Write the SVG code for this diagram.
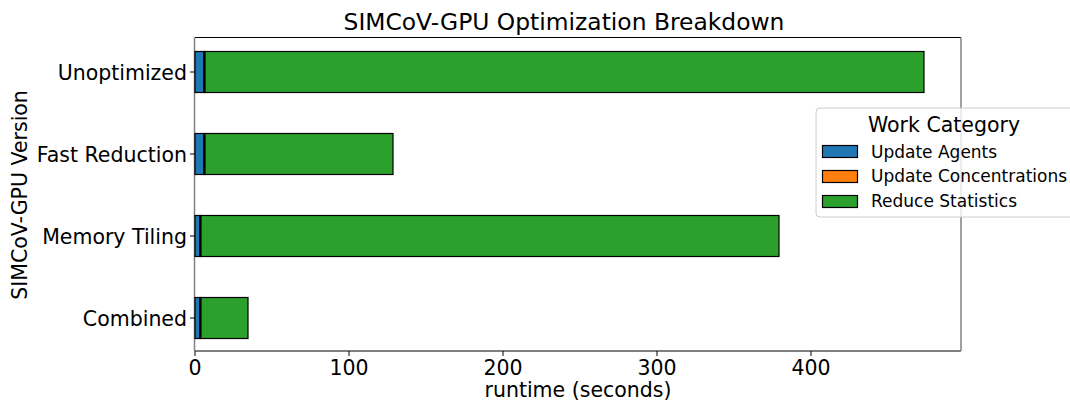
<svg xmlns="http://www.w3.org/2000/svg" width="1070" height="400" viewBox="0 0 1070 400">
<style>
text{font-family:"DejaVu Sans",sans-serif;fill:#000}
.tick{font-size:20.5px}
.bar{stroke:#000;stroke-width:1.2}
.a{fill:#1f77b4}.c{fill:#ff7f0e}.r{fill:#2ca02c}
.tk{stroke:#000;stroke-width:1}
.leg{font-size:17px}
</style>
<rect width="1070" height="400" fill="#fff"/>
<text x="564" y="30" font-size="23.4" text-anchor="middle">SIMCoV-GPU Optimization Breakdown</text>
<g id="axes">
<line x1="195" y1="37.5" x2="961" y2="37.5" stroke="#000" stroke-width="1"/>
<line x1="195" y1="351" x2="961" y2="351" stroke="#000" stroke-width="1"/>
<line x1="194.5" y1="37.5" x2="194.5" y2="351" stroke="#808080" stroke-width="1.5"/>
<line x1="961" y1="37.5" x2="961" y2="351" stroke="#808080" stroke-width="1.5"/>
<g class="tk">
<line x1="190" y1="72" x2="195" y2="72"/><line x1="190" y1="154" x2="195" y2="154"/>
<line x1="190" y1="236" x2="195" y2="236"/><line x1="190" y1="318" x2="195" y2="318"/>
<line x1="195" y1="351" x2="195" y2="356"/><line x1="349" y1="351" x2="349" y2="356"/>
<line x1="503" y1="351" x2="503" y2="356"/><line x1="657" y1="351" x2="657" y2="356"/>
<line x1="811" y1="351" x2="811" y2="356"/>
</g>
<g class="tick" text-anchor="end">
<text x="187" y="79.5">Unoptimized</text>
<text x="187" y="161.5">Fast Reduction</text>
<text x="187" y="243.5">Memory Tiling</text>
<text x="187" y="325.5">Combined</text>
</g>
<g class="tick" text-anchor="middle">
<text x="195" y="375">0</text><text x="349" y="375">100</text><text x="503" y="375">200</text>
<text x="657" y="375">300</text><text x="811" y="375">400</text>
</g>
<text x="578" y="397" class="tick" text-anchor="middle">runtime (seconds)</text>
<text transform="translate(27,195) rotate(-90)" class="tick" text-anchor="middle">SIMCoV-GPU Version</text>
</g>
<g id="connectors"></g>
<g id="bar-unoptimized">
<rect class="bar a" x="195" y="51.5" width="9" height="41"/>
<rect class="bar c" x="204" y="51.5" width="1" height="41"/>
<rect class="bar r" x="205" y="51.5" width="719" height="41"/>
</g>
<g id="bar-fast-reduction">
<rect class="bar a" x="195" y="133.5" width="9" height="41"/>
<rect class="bar c" x="204" y="133.5" width="1" height="41"/>
<rect class="bar r" x="205" y="133.5" width="188" height="41"/>
</g>
<g id="bar-memory-tiling">
<rect class="bar a" x="195" y="215.5" width="5" height="41"/>
<rect class="bar c" x="200" y="215.5" width="1" height="41"/>
<rect class="bar r" x="201" y="215.5" width="578" height="41"/>
</g>
<g id="bar-combined">
<rect class="bar a" x="195" y="297.5" width="5" height="41"/>
<rect class="bar c" x="200" y="297.5" width="1" height="41"/>
<rect class="bar r" x="201" y="297.5" width="47" height="41"/>
</g>
<g id="legend">
<rect x="816" y="108" width="270" height="109" rx="4" fill="#fff" fill-opacity="0.8" stroke="#ccc" stroke-width="1"/>
<text x="944" y="131.5" font-size="20.5" text-anchor="middle">Work Category</text>
<rect class="bar a" x="822.5" y="145.5" width="35" height="12" stroke-width="1"/>
<rect class="bar c" x="822.5" y="170.5" width="35" height="12" stroke-width="1"/>
<rect class="bar r" x="822.5" y="195.5" width="35" height="12" stroke-width="1"/>
<text x="871" y="157.5" class="leg">Update Agents</text>
<text x="871" y="182" class="leg">Update Concentrations</text>
<text x="871" y="207" class="leg">Reduce Statistics</text>
</g>
</svg>
